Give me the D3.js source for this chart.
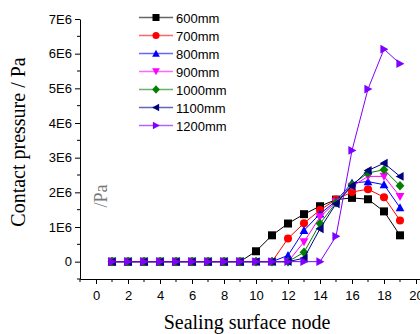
<!DOCTYPE html>
<html>
<head>
<meta charset="utf-8">
<script src="https://cdn.jsdelivr.net/npm/d3@7"></script>
<style>
  body { margin: 0; background: #fff; }
  svg { display: block; }
  .tick text { font-family: Arial, "Liberation Sans", sans-serif; font-size: 13px; fill: #000; }
</style>
</head>
<body>
<div id="chart"></div>
<script>
// node numbers along the sealing surface
const nodes = [1, 2, 3, 4, 5, 6, 7, 8, 9, 10, 11, 12, 13, 14, 15, 16, 17, 18, 19];
const seriesNames = ["600mm", "700mm", "800mm", "900mm", "1000mm", "1100mm", "1200mm"];
const seriesColors = ["#000000", "#ff0000", "#0000ff", "#ff00ff", "#008000", "#000080", "#8000ff"];

// contact pressure, Pa
const p600  = [0, 0, 0, 0, 0, 0, 0, 0, 0, 0.30e6, 0.76e6, 1.10e6, 1.37e6, 1.60e6, 1.79e6, 1.84e6, 1.80e6, 1.45e6, 0.76e6];
const p700  = [0, 0, 0, 0, 0, 0, 0, 0, 0, 0, 0, 0.67e6, 1.11e6, 1.49e6, 1.79e6, 2.01e6, 2.09e6, 1.86e6, 1.19e6];
const p800  = [0, 0, 0, 0, 0, 0, 0, 0, 0, 0, 0, 0.18e6, 0.90e6, 1.38e6, 1.75e6, 2.27e6, 2.31e6, 2.22e6, 1.56e6];
const p900  = [0, 0, 0, 0, 0, 0, 0, 0, 0, 0, 0, 0, 0.57e6, 1.29e6, 1.72e6, 2.17e6, 2.46e6, 2.46e6, 1.88e6];
const p1000 = [0, 0, 0, 0, 0, 0, 0, 0, 0, 0, 0, 0, 0.27e6, 1.10e6, 1.70e6, 2.22e6, 2.56e6, 2.65e6, 2.19e6];
const p1100 = [0, 0, 0, 0, 0, 0, 0, 0, 0, 0, 0, 0, 0.10e6, 0.95e6, 1.67e6, 2.19e6, 2.63e6, 2.84e6, 2.46e6];
const p1200 = [0, 0, 0, 0, 0, 0, 0, 0, 0, 0, 0, 0, 0, 0, 0.73e6, 3.21e6, 4.98e6, 6.13e6, 5.71e6];

const xTicks = [0, 2, 4, 6, 8, 10, 12, 14, 16, 18, 20];
const yTicks = [0, 1e6, 2e6, 3e6, 4e6, 5e6, 6e6, 7e6];
const yTickLabels = ["0", "1E6", "2E6", "3E6", "4E6", "5E6", "6E6", "7E6"];

const allSeries = [p600, p700, p800, p900, p1000, p1100, p1200];
const symbols = ["square", "circle", "up", "down", "diamond", "left", "right"];

const width = 420, height = 334;

const svg = d3.select("#chart").append("svg")
    .attr("width", width)
    .attr("height", height);

const x = d3.scaleLinear().domain([-1, 21]).range([80, 432]);
const y = d3.scaleLinear().domain([-0.5e6, 7e6]).range([279, 19]);

// axes
const xAxis = svg.append("g")
    .attr("transform", "translate(0,279)")
    .call(d3.axisBottom(x).tickValues(xTicks).tickSize(5).tickSizeOuter(0).tickPadding(7));
xAxis.select(".domain").attr("stroke", "#000");
// minor ticks
svg.append("g").selectAll("line")
    .data(d3.range(-1, 21, 2))
    .enter().append("line")
    .attr("x1", d => x(d)).attr("x2", d => x(d))
    .attr("y1", 279).attr("y2", 282)
    .attr("stroke", "#000");

const yAxis = svg.append("g")
    .attr("transform", "translate(80,0)")
    .call(d3.axisLeft(y).tickValues(yTicks).tickFormat((d, i) => yTickLabels[i]).tickSize(5).tickSizeOuter(0).tickPadding(3));
svg.append("g").selectAll("line")
    .data(d3.range(-0.5e6, 7e6, 1e6))
    .enter().append("line")
    .attr("x1", 77).attr("x2", 80)
    .attr("y1", d => y(d)).attr("y2", d => y(d))
    .attr("stroke", "#000");

// axis titles
svg.append("text")
    .attr("transform", "translate(25,142) rotate(-90)")
    .attr("text-anchor", "middle")
    .attr("font-family", "'Liberation Serif', 'Times New Roman', serif")
    .attr("font-size", 20)
    .text("Contact pressure / Pa");

svg.append("text")
    .attr("x", 247).attr("y", 329)
    .attr("text-anchor", "middle")
    .attr("font-family", "'Liberation Serif', 'Times New Roman', serif")
    .attr("font-size", 20)
    .text("Sealing surface node");

svg.append("text")
    .attr("transform", "translate(107,196) rotate(-90)")
    .attr("text-anchor", "middle")
    .attr("font-family", "'Liberation Serif', 'Times New Roman', serif")
    .attr("font-size", 18)
    .attr("fill", "#777")
    .text("/Pa");

function symbolPath(kind, size) {
    const s = size / 2;
    switch (kind) {
        case "square": return `M${-s},${-s}H${s}V${s}H${-s}Z`;
        case "circle": return d3.symbol(d3.symbolCircle, size * size * 0.8)();
        case "diamond": return `M0,${-s * 1.2}L${s * 1.1},0L0,${s * 1.2}L${-s * 1.1},0Z`;
        case "up": return `M0,${-s * 1.1}L${s * 1.1},${s * 0.9}L${-s * 1.1},${s * 0.9}Z`;
        case "down": return `M0,${s * 1.1}L${s * 1.1},${-s * 0.9}L${-s * 1.1},${-s * 0.9}Z`;
        case "left": return `M${-s * 1.1},0L${s * 0.9},${-s * 1.1}L${s * 0.9},${s * 1.1}Z`;
        case "right": return `M${s * 1.1},0L${-s * 0.9},${-s * 1.1}L${-s * 0.9},${s * 1.1}Z`;
    }
}

const line = d3.line().x((d, i) => x(nodes[i])).y(d => y(d));

allSeries.forEach((vals, k) => {
    const g = svg.append("g");
    g.append("path")
        .attr("d", line(vals))
        .attr("fill", "none")
        .attr("stroke", seriesColors[k])
        .attr("stroke-width", 1);
    g.selectAll("path.m")
        .data(vals)
        .enter().append("path")
        .attr("class", "m")
        .attr("transform", (d, i) => `translate(${x(nodes[i])},${y(d)})`)
        .attr("d", symbolPath(symbols[k], 8))
        .attr("fill", seriesColors[k]);
});

// legend
const legend = svg.append("g");
seriesNames.forEach((name, k) => {
    const ly = 17.5 + k * 18;
    legend.append("line")
        .attr("x1", 139).attr("x2", 173)
        .attr("y1", ly).attr("y2", ly)
        .attr("stroke", seriesColors[k])
        .attr("stroke-opacity", 0.6)
        .attr("stroke-width", 1.5);
    legend.append("path")
        .attr("transform", `translate(156,${ly})`)
        .attr("d", symbolPath(symbols[k], 7))
        .attr("fill", seriesColors[k]);
    legend.append("text")
        .attr("x", 176).attr("y", ly + 5)
        .attr("font-family", "Arial, 'Liberation Sans', sans-serif")
        .attr("font-size", 13)
        .text(name);
});
</script>
</body>
</html>
